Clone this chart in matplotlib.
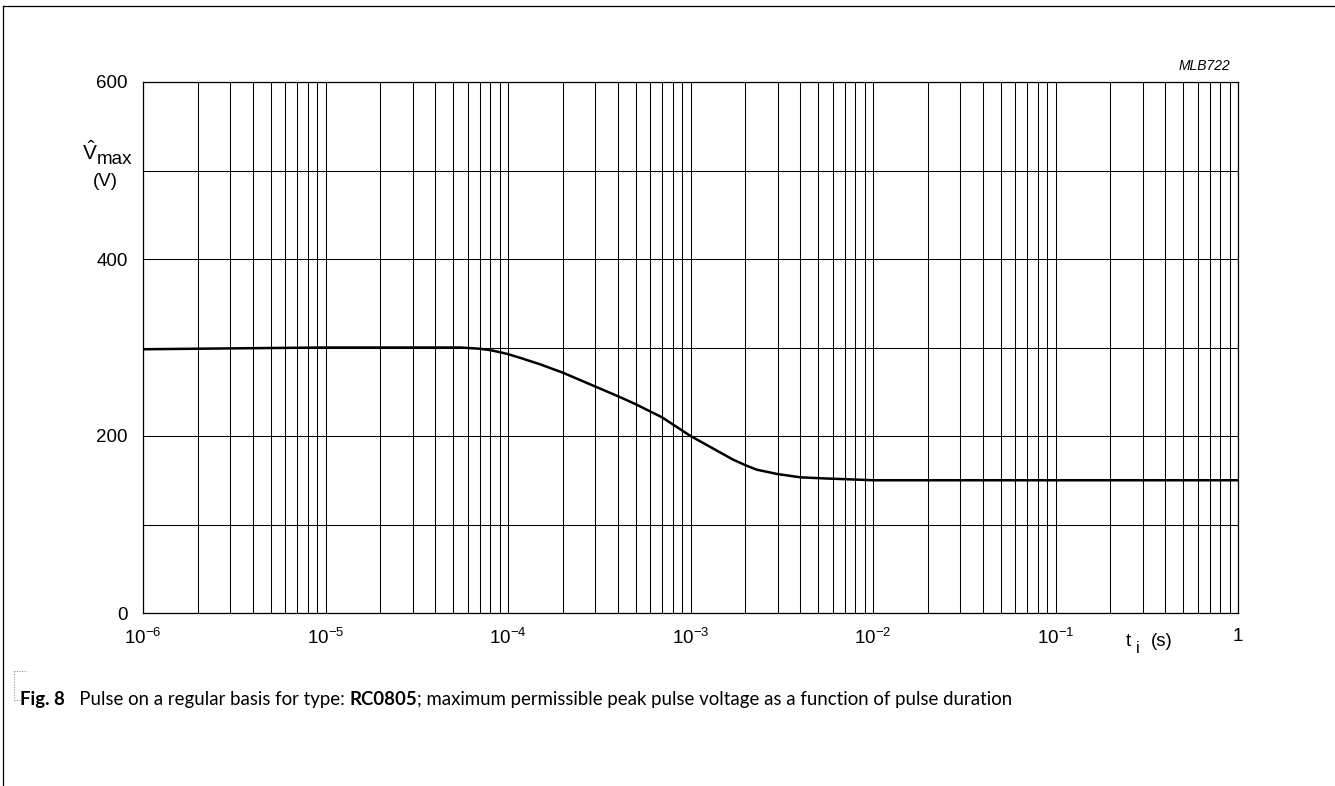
import numpy as np
import matplotlib
matplotlib.use("Agg")
import matplotlib.pyplot as plt
from matplotlib.lines import Line2D
from matplotlib.ticker import LogLocator, FixedLocator, NullFormatter

# pulse duration (s) and max peak pulse voltage (V)
t_pulse = [1e-6, 3e-6, 1e-5, 3e-5, 5.5e-5, 7e-5, 8e-5, 9e-5, 1e-4, 1.2e-4,
           1.5e-4, 2e-4, 3e-4, 4e-4, 5e-4, 7e-4, 1e-3, 1.2e-3, 1.7e-3, 2e-3,
           2.3e-3, 3e-3, 4e-3, 5.5e-3, 7.5e-3, 1e-2, 1e-1, 1.0]
v_max = [298, 299, 300, 300, 300, 298.6, 297, 294.8, 292.5, 287.5,
         281, 271.5, 256, 245, 236, 221, 200, 191, 173.6, 167,
         162, 157, 153.3, 152, 151, 150, 150, 150]

x_ticks = [1e-6, 1e-5, 1e-4, 1e-3, 1e-2, 1e-1, 1]
x_labels = [r"$10^{-6}$", r"$10^{-5}$", r"$10^{-4}$", r"$10^{-3}$",
            r"$10^{-2}$", r"$10^{-1}$", "1"]
y_ticks = [0, 200, 400, 600]

W, H = 1335, 786
plt.rcParams["font.family"] = ["Liberation Sans", "DejaVu Sans"]
plt.rcParams["mathtext.fontset"] = "custom"
plt.rcParams["mathtext.rm"] = "Liberation Sans"
plt.rcParams["mathtext.it"] = "Liberation Sans:italic"
plt.rcParams["mathtext.sf"] = "Liberation Sans"

fig = plt.figure(figsize=(W / 100, H / 100), dpi=100)
ax = fig.add_axes([143 / W, 1 - 613 / H, 1095 / W, 531 / H])

ax.plot(t_pulse, v_max, color="black", lw=1.8, solid_capstyle="butt")

ax.set_xscale("log")
ax.set_xlim(1e-6, 1)
ax.set_ylim(0, 600)

ax.xaxis.set_major_locator(FixedLocator(x_ticks))
ax.set_xticklabels(x_labels)
ax.xaxis.set_minor_locator(LogLocator(base=10, subs=np.arange(2, 10)))
ax.xaxis.set_minor_formatter(NullFormatter())
ax.yaxis.set_major_locator(FixedLocator(y_ticks))
ax.yaxis.set_minor_locator(FixedLocator([100, 300, 500]))

ax.grid(True, which="both", color="black", lw=0.75)
ax.tick_params(which="both", length=0, labelsize=13.5)
ax.tick_params(axis="x", pad=11)
ax.tick_params(axis="y", pad=11)
for s in ax.spines.values():
    s.set_linewidth(0.9)

# axis labels
fig.text(98 / W, 1 - 160 / H, r"$\hat{\mathrm{V}}$", fontsize=15, ha="right", va="baseline")
fig.text(97 / W, 1 - 164 / H, "max", fontsize=13.5, ha="left", va="baseline")
fig.text(105 / W, 1 - 186 / H, "(V)", fontsize=13.5, ha="center", va="baseline")
fig.text(1128 / W, 1 - 646 / H, "t", fontsize=13.5, ha="center", va="baseline")
fig.text(1138 / W, 1 - 653 / H, "i", fontsize=12, ha="center", va="baseline")
fig.text(1162 / W, 1 - 646 / H, "(s)", fontsize=13.5, ha="center", va="baseline")
fig.text(1230 / W, 1 - 70 / H, "MLB722", fontsize=10, style="italic", ha="right", va="baseline")

# caption
cap_y = 1 - 705 / H
cap_font = ["Lato", "DejaVu Sans"]
x0 = 20 / W
parts = [("Fig. 8", "bold"), ("   Pulse on a regular basis for type: ", "normal"),
         ("RC0805", "bold"),
         ("; maximum permissible peak pulse voltage as a function of pulse duration", "normal")]
fig.canvas.draw()
renderer = fig.canvas.get_renderer()
for txt, wt in parts:
    t = fig.text(x0, cap_y, txt, fontsize=13.4, family=cap_font, weight=wt,
                 ha="left", va="baseline")
    bb = t.get_window_extent(renderer=renderer)
    x0 += bb.width / W

# dotted bracket by the caption
fig.add_artist(Line2D([14 / W, 14 / W], [1 - 671 / H, 1 - 700 / H], color="gray", lw=0.7, ls=":"))
fig.add_artist(Line2D([14 / W, 27 / W], [1 - 671 / H, 1 - 671 / H], color="gray", lw=0.7, ls=":"))
fig.add_artist(Line2D([14 / W, 20 / W], [1 - 700 / H, 1 - 700 / H], color="gray", lw=0.7, ls=":"))

# page border
fig.add_artist(Line2D([3 / W, 1], [1 - 6 / H, 1 - 6 / H], color="black", lw=0.9))
fig.add_artist(Line2D([3 / W, 3 / W], [0, 1 - 6 / H], color="black", lw=0.9))

fig.savefig("out.png", dpi=100)
